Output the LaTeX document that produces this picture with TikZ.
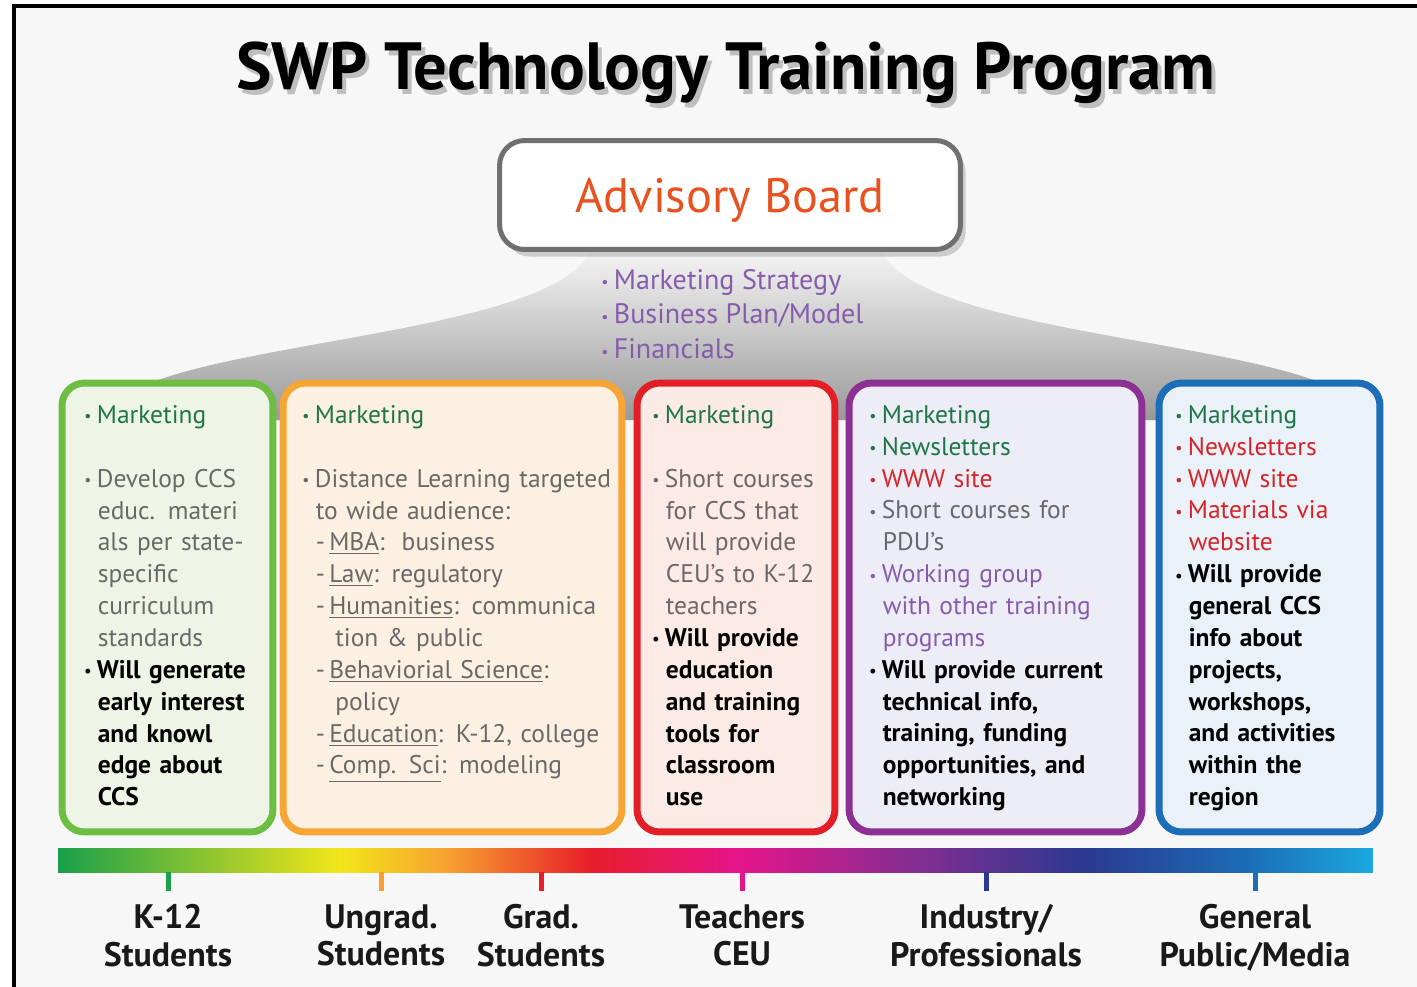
\documentclass[tikz,border=0pt]{standalone}
\usepackage{fontspec}
\setmainfont{PT Sans}
\usepackage{xcolor}
\usepackage{tikz}
\usetikzlibrary{shadows}
\definecolor{kgreen}{RGB}{110,190,68}
\definecolor{ugorange}{RGB}{246,166,52}
\definecolor{gdred}{RGB}{228,30,38}
\definecolor{indpurple}{RGB}{140,48,148}
\definecolor{pubblue}{RGB}{28,110,185}
\definecolor{kfill}{RGB}{238,245,230}
\definecolor{ugfill}{RGB}{252,240,226}
\definecolor{gdfill}{RGB}{251,234,230}
\definecolor{indfill}{RGB}{237,237,247}
\definecolor{pubfill}{RGB}{234,241,248}
\definecolor{mkgreen}{RGB}{30,118,70}
\definecolor{txtgray}{RGB}{105,105,105}
\definecolor{txtred}{RGB}{212,36,40}
\definecolor{txtpurple}{RGB}{135,92,172}
\definecolor{advorange}{RGB}{232,82,32}
\definecolor{advgray}{RGB}{112,112,112}
\definecolor{rbgreen}{RGB}{26,160,74}
\definecolor{rbyellow}{RGB}{242,230,26}
\definecolor{rborange}{RGB}{247,160,48}
\definecolor{rbred}{RGB}{232,30,42}
\definecolor{rbmagenta}{RGB}{230,20,138}
\definecolor{rbpurple}{RGB}{140,44,144}
\definecolor{rbdblue}{RGB}{43,57,144}
\definecolor{rbblue}{RGB}{28,109,181}
\definecolor{rbcyan}{RGB}{27,168,224}
\pgfdeclarehorizontalshading{spectrum}{100bp}{color(0bp)=(rbgreen); color(25bp)=(rbgreen);
  color(35.7bp)=(rbyellow); color(39.9bp)=(rborange); color(45.2bp)=(rbred);
  color(50.9bp)=(rbmagenta); color(57bp)=(rbpurple); color(64bp)=(rbdblue);
  color(70.2bp)=(rbblue); color(75bp)=(rbcyan); color(100bp)=(rbcyan)}
\newcommand{\blt}{\makebox[0.25cm][l]{\raisebox{0.12ex}{\small\textbullet}}}
\newcommand{\hind}{\hspace*{0.27cm}}
\newcommand{\subind}{\hspace*{0.66cm}}

\begin{document}
\begin{tikzpicture}[x=0.02cm, y=-0.02cm,
  panel/.style 2 args={draw=#1, fill=#2, line width=0.14cm, rounded corners=0.45cm,
    inner sep=0pt, minimum height=8.98cm},
  txt/.style={anchor=north west, inner sep=0pt, text width=7cm, align=left,
    font=\fontsize{14.5}{18.14}\selectfont},
  aud/.style={anchor=north, align=center, inner sep=0pt, text=black!90,
    font=\fontsize{19.3}{21.5}\selectfont\bfseries},
  tick/.style={line width=0.1cm, draw=#1}]
  \useasboundingbox (0,0) rectangle (1417,987);
  \fill[black!3] (14,6) rectangle (1417,987);
  \draw[line width=2pt] (14,987) -- (14,6) -- (1417,6);
  % title
  \node[text=black!25, font=\fontsize{38}{46}\selectfont\bfseries] (titleshadow) at (730,78)
    {SWP Technology Training Program};
  \node[font=\fontsize{38}{46}\selectfont\bfseries] (title) at (726,73)
    {SWP Technology Training Program};
  % grey skirt under the board
  \shade[top color=black!4, bottom color=black!40] (135,390) .. controls (230,340) and (560,330)
    .. (590,250) -- (882,250) .. controls (912,330) and (1242,340) .. (1337,390)
    -- (1337,420) -- (135,420) -- cycle;
  \node[draw=advgray, fill=white, line width=0.1cm, rounded corners=0.5cm,
    minimum width=9.22cm, minimum height=2.18cm, text=advorange, text depth=0pt,
    font=\fontsize{27.5}{33}\selectfont,
    drop shadow={opacity=0.35, shadow xshift=3pt, shadow yshift=-4pt}] (board) at (730,195)
    {Advisory Board};
  \node[anchor=north west, inner sep=0pt, align=left, text=txtpurple,
    font=\fontsize{16}{19.8}\selectfont] (boardlist) at (601,264.5)
    {\strut\blt Marketing Strategy\\ \blt Business Plan/Model\\ \blt Financials};
  % panels
  \node[panel={kgreen}{kfill}, minimum width=4.22cm] (k12box) at (167.5,607.5) {};
  \node[panel={ugorange}{ugfill}, minimum width=6.78cm] (ugbox) at (452.5,607.5) {};
  \node[panel={gdred}{gdfill}, minimum width=3.96cm] (gdbox) at (736,607.5) {};
  \node[panel={indpurple}{indfill}, minimum width=5.86cm] (indbox) at (995.5,607.5) {};
  \node[panel={pubblue}{pubfill}, minimum width=4.42cm] (pubbox) at (1269.5,607.5) {};
  \node[txt] (k12txt) at (84,400.6) {\strut{\color{mkgreen}\blt Marketing}\\[0.64cm]
    {\color{txtgray}\blt Develop CCS\\ \hind educ. materi\\ \hind als per state-\\
    \hind specific\\ \hind curriculum\\ \hind standards}\\
    {\bfseries\blt Will generate\\ \hind early interest\\ \hind and knowl\\
    \hind edge about\\ \hind CCS}};
  \node[txt] (ugtxt) at (302,400.6) {\strut{\color{mkgreen}\blt Marketing}\\[0.64cm]
    {\color{txtgray}\blt Distance Learning targeted\\ \hind to wide audience:\\
    \hind -\,\underline{MBA}:\ \ business\\ \hind -\,\underline{Law}: regulatory\\
    \hind -\,\underline{Humanities}: communica\\ \subind tion \& public\\
    \hind -\,\underline{Behaviorial Science}:\\ \subind policy\\
    \hind -\,\underline{Education}: K-12, college\\ \hind -\,\underline{Comp. Sci}: modeling}};
  \node[txt] (gdtxt) at (652,400.6) {\strut{\color{mkgreen}\blt Marketing}\\[0.64cm]
    {\color{txtgray}\blt Short courses\\ \hind for CCS that\\ \hind will provide\\
    \hind CEU’s to K-12\\ \hind teachers}\\
    {\bfseries\blt Will provide\\ \hind education\\ \hind and training\\ \hind tools for\\
    \hind classroom\\ \hind use}};
  \node[txt] (indtxt) at (869,400.6) {\strut{\color{mkgreen}\blt Marketing\\ \blt Newsletters}\\
    {\color{txtred}\blt WWW site}\\
    {\color{txtgray}\blt Short courses for\\ \hind PDU’s}\\
    {\color{txtpurple}\blt Working group\\ \hind with other training\\ \hind programs}\\
    {\bfseries\blt Will provide current\\ \hind technical info,\\ \hind training, funding\\
    \hind opportunities, and\\ \hind networking}};
  \node[txt] (pubtxt) at (1175,400.6) {\strut{\color{mkgreen}\blt Marketing}\\
    {\color{txtred}\blt Newsletters\\ \blt WWW site\\ \blt Materials via\\ \hind website}\\
    {\bfseries\blt Will provide\\ \hind general CCS\\ \hind info about\\ \hind projects,\\
    \hind workshops,\\ \hind and activities\\ \hind within the\\ \hind region}};
  % audience scale
  \node[shade, shading=spectrum, inner sep=0pt, minimum width=26.3cm,
    minimum height=0.48cm] (bar) at (715.5,860) {};
  \node[aud] (k12) at (168,904) {K-12\\Students};
  \node[aud] (ungrad) at (381,904) {Ungrad.\\Students};
  \node[aud] (grad) at (541,904) {Grad.\\Students};
  \node[aud] (teach) at (742,904) {Teachers\\CEU};
  \node[aud] (indus) at (986,904) {Industry/\\Professionals};
  \node[aud] (public) at (1255,904) {General\\Public/Media};
  \draw[tick=rbgreen] (k12.north |- bar.south) -- ++(0,19);
  \draw[tick=rborange] (ungrad.north |- bar.south) -- ++(0,19);
  \draw[tick=rbred] (grad.north |- bar.south) -- ++(0,19);
  \draw[tick=rbmagenta] (teach.north |- bar.south) -- ++(0,19);
  \draw[tick=rbdblue] (indus.north |- bar.south) -- ++(0,19);
  \draw[tick=rbblue] (public.north |- bar.south) -- ++(0,19);
\end{tikzpicture}
\end{document}
